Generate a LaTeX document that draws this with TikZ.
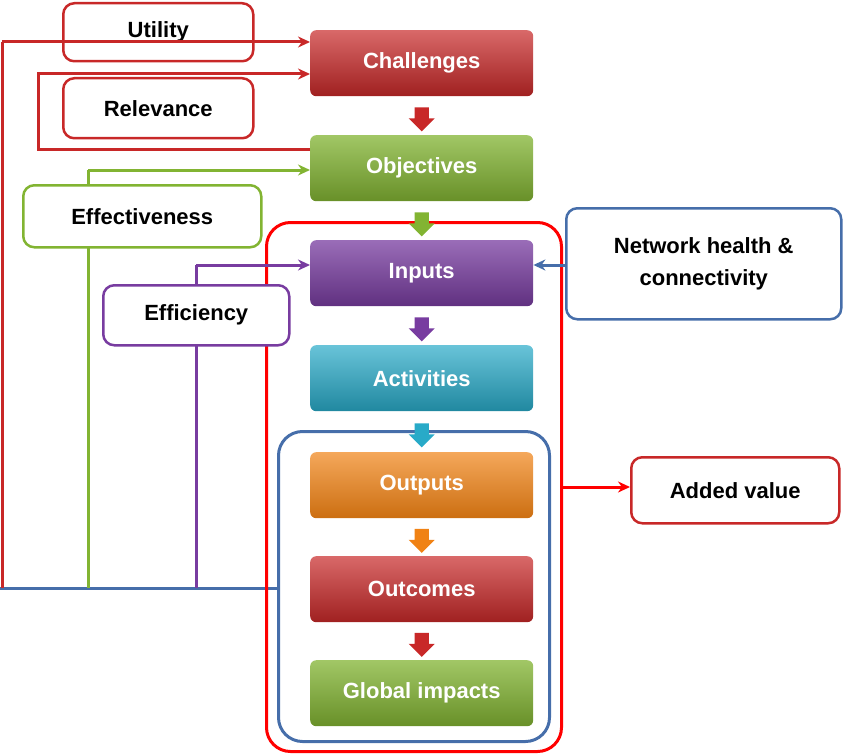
\documentclass[tikz,border=0pt]{standalone}
\usepackage{fontspec}
\setmainfont{Liberation Sans}
\usetikzlibrary{shapes.arrows,arrows.meta,calc}
\begin{document}
\begin{tikzpicture}[x=1pt,y=-1pt,
  stage/.style={rounded corners=6pt,minimum width=223pt,minimum height=66pt,text=white,font=\bfseries\fontsize{22}{26}\selectfont,anchor=north west},
  lab/.style={draw,line width=2.5pt,fill=white,rounded corners=11pt,font=\bfseries\fontsize{22}{26}\selectfont,anchor=north west,align=center},
  darr/.style={single arrow,single arrow head extend=5pt,single arrow head indent=0pt,shape border rotate=270,minimum height=24pt,minimum width=26pt,inner sep=0pt,text width=12pt,draw=none},
  conn/.style={line width=3pt,-{Stealth[length=12pt,width=11pt]}}]
\useasboundingbox (0,0) rectangle (850,754);
\definecolor{cr}{RGB}{200,40,40}\definecolor{cg}{RGB}{130,180,50}
\definecolor{cp}{RGB}{120,60,160}\definecolor{cc}{RGB}{40,170,200}
\definecolor{co}{RGB}{240,130,20}\definecolor{cb}{RGB}{70,110,170}
% connector lines
\draw[line width=3pt,cb] (0,588) -- (277,588);
\draw[line width=3pt,cr] (2,588) -- (2,42);
\draw[line width=3pt,cg] (88,588) -- (88,170);
\draw[line width=3pt,cp] (196,588) -- (196,265);
% containers
\node[draw=red,line width=3pt,rounded corners=24pt,minimum width=295pt,minimum height=529pt,anchor=north west] (big) at (265,221) {};
\node[draw=cb,line width=3pt,rounded corners=24pt,minimum width=271pt,minimum height=310pt,anchor=north west] (inner) at (277,430) {};
% stages
\node[stage,top color=cr!70!white,bottom color=cr!80!black] (ch) at (310,30) {Challenges};
\node[stage,top color=cg!75!white,bottom color=cg!80!black] (ob) at (310,135) {Objectives};
\node[stage,top color=cp!75!white,bottom color=cp!80!black] (in) at (310,240) {Inputs};
\node[stage,top color=cc!70!white,bottom color=cc!80!black] (ac) at (310,345) {Activities};
\node[stage,top color=co!70!white,bottom color=co!85!black] (ou) at (310,452) {Outputs};
\node[stage,top color=cr!70!white,bottom color=cr!80!black] (oc) at (310,556) {Outcomes};
\node[stage,top color=cg!75!white,bottom color=cg!80!black] (gi) at (310,660) {Global impacts};
\foreach \a/\b/\c in {ch/ob/cr,ob/in/cg,in/ac/cp,ac/ou/cc,ou/oc/co,oc/gi/cr}
  \node[darr,fill=\c] at ($(\a.south)!0.5!(\b.north)$) {};
% labels
\node[lab,draw=cr,minimum width=190pt,minimum height=58pt] (ut) at (62,2) {Utility};
\node[lab,draw=cr,minimum width=190pt,minimum height=60pt] (re) at (62,77) {Relevance};
\node[lab,draw=cg,minimum width=238pt,minimum height=62pt] (ef) at (22,184) {Effectiveness};
\node[lab,draw=cp,minimum width=186pt,minimum height=60pt] (ec) at (102,284) {Efficiency};
\node[lab,draw=cb,minimum width=275pt,minimum height=111pt] (nh) at (565,207) {Network health \&\\[6pt]connectivity};
\node[lab,draw=cr,minimum width=208pt,minimum height=66pt] (av) at (630,456) {Added value};
% connectors
\coordinate (u1) at (2,42);
\draw[conn,cr] (u1) -- (ch.west|-u1);
\coordinate (r1) at (38,150);\coordinate (r2) at (38,74);
\draw[conn,cr] (ob.west|-r1) -- (r1) -- (r2) -- (ch.west|-r2);
\coordinate (g1) at (88,170);
\draw[conn,cg] (g1) -- (ob.west|-g1);
\coordinate (p1) at (196,265);
\draw[conn,cp] (p1) -- (in.west|-p1);
\draw[conn,cb] (nh.west|-p1) -- (in.east|-p1);
\coordinate (a1) at (560,487);
\draw[conn,red] (a1) -- (av.west|-a1);
\end{tikzpicture}
\end{document}
